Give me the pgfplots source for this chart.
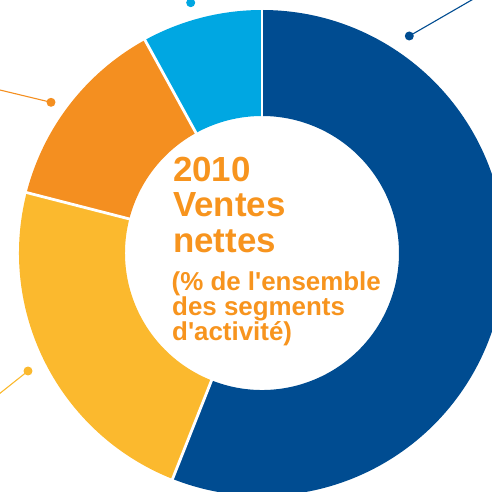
\documentclass[border=0pt]{standalone}
\usepackage{pgfplots}
\pgfplotsset{compat=1.18}
\usepackage{fontspec}
\setmainfont{Liberation Sans}
\definecolor{dblue}{RGB}{0,76,145}
\definecolor{lblue}{RGB}{0,167,226}
\definecolor{orng}{RGB}{244,143,32}
\definecolor{ylw}{RGB}{251,185,46}
\definecolor{txt}{RGB}{247,148,30}
\newcommand{\sq}{{\XeTeXglyph\XeTeXcharglyph"0027\relax}}
\begin{document}
\begin{tikzpicture}
\begin{axis}[
  scale only axis, width=492bp, height=492bp,
  xmin=-262, xmax=230, ymin=-239, ymax=253,
  hide axis, clip=true,
]
% segments (% of total): 56, 23, 13, 8 -- clockwise from 12 o'clock
\begin{scope}[shift={(axis cs:0,0)}]
\fill[dblue] (90:243bp) arc[start angle=90, delta angle={-3.6*56}, radius=243bp]
  -- ({90-3.6*56}:137bp) arc[start angle={90-3.6*56}, delta angle={3.6*56}, radius=137bp] -- cycle;
\fill[ylw] ({90-3.6*56}:243bp) arc[start angle={90-3.6*56}, delta angle={-3.6*23}, radius=243bp]
  -- ({90-3.6*79}:137bp) arc[start angle={90-3.6*79}, delta angle={3.6*23}, radius=137bp] -- cycle;
\fill[orng] ({90-3.6*79}:243bp) arc[start angle={90-3.6*79}, delta angle={-3.6*13}, radius=243bp]
  -- ({90-3.6*92}:137bp) arc[start angle={90-3.6*92}, delta angle={3.6*13}, radius=137bp] -- cycle;
\fill[lblue] ({90-3.6*92}:243bp) arc[start angle={90-3.6*92}, delta angle={-3.6*8}, radius=243bp]
  -- ({90-3.6*100}:137bp) arc[start angle={90-3.6*100}, delta angle={3.6*8}, radius=137bp] -- cycle;
\draw[white, line width=2.8bp] (90:130bp) -- (90:250bp);
\draw[white, line width=2.8bp] ({90-3.6*56}:130bp) -- ({90-3.6*56}:250bp);
\draw[white, line width=2.8bp] ({90-3.6*79}:130bp) -- ({90-3.6*79}:250bp);
\draw[white, line width=2.8bp] ({90-3.6*92}:130bp) -- ({90-3.6*92}:250bp);
\end{scope}
% leader lines
\addplot[dblue, line width=1.1bp, mark=*, mark size=3.9bp, mark indices={1}] coordinates {(147.3,217) (240,270.5)};
\addplot[lblue, line width=1.1bp, mark=*, mark size=3.9bp, mark indices={1}] coordinates {(-71.3,250.3) (-71.3,275)};
\addplot[orng, line width=1.1bp, mark=*, mark size=3.9bp, mark indices={1}] coordinates {(-211,150.7) (-280,167.3)};
\addplot[ylw, line width=1.1bp, mark=*, mark size=3.9bp, mark indices={1}] coordinates {(-234,-118) (-280,-154.6)};
% centre text
\node[anchor=base west, inner sep=0pt, text=txt, font=\fontsize{35}{35}\selectfont\bfseries] at (axis cs:-89,71) {2010};
\node[anchor=base west, inner sep=0pt, text=txt, font=\fontsize{35}{35}\selectfont\bfseries] at (axis cs:-89,36) {Ventes};
\node[anchor=base west, inner sep=0pt, text=txt, font=\fontsize{35}{35}\selectfont\bfseries] at (axis cs:-89,0) {nettes};
\node[anchor=base west, inner sep=0pt, text=txt, font=\fontsize{26}{26}\selectfont\bfseries] at (axis cs:-90.5,-38) {(\% de l\sq ensemble};
\node[anchor=base west, inner sep=0pt, text=txt, font=\fontsize{26}{26}\selectfont\bfseries] at (axis cs:-90,-63) {des segments};
\node[anchor=base west, inner sep=0pt, text=txt, font=\fontsize{26}{26}\selectfont\bfseries] at (axis cs:-90,-88) {d\sq activité)};
\end{axis}
\pgfresetboundingbox
\path (current axis.south west) rectangle (current axis.north east);
\end{tikzpicture}
\end{document}
